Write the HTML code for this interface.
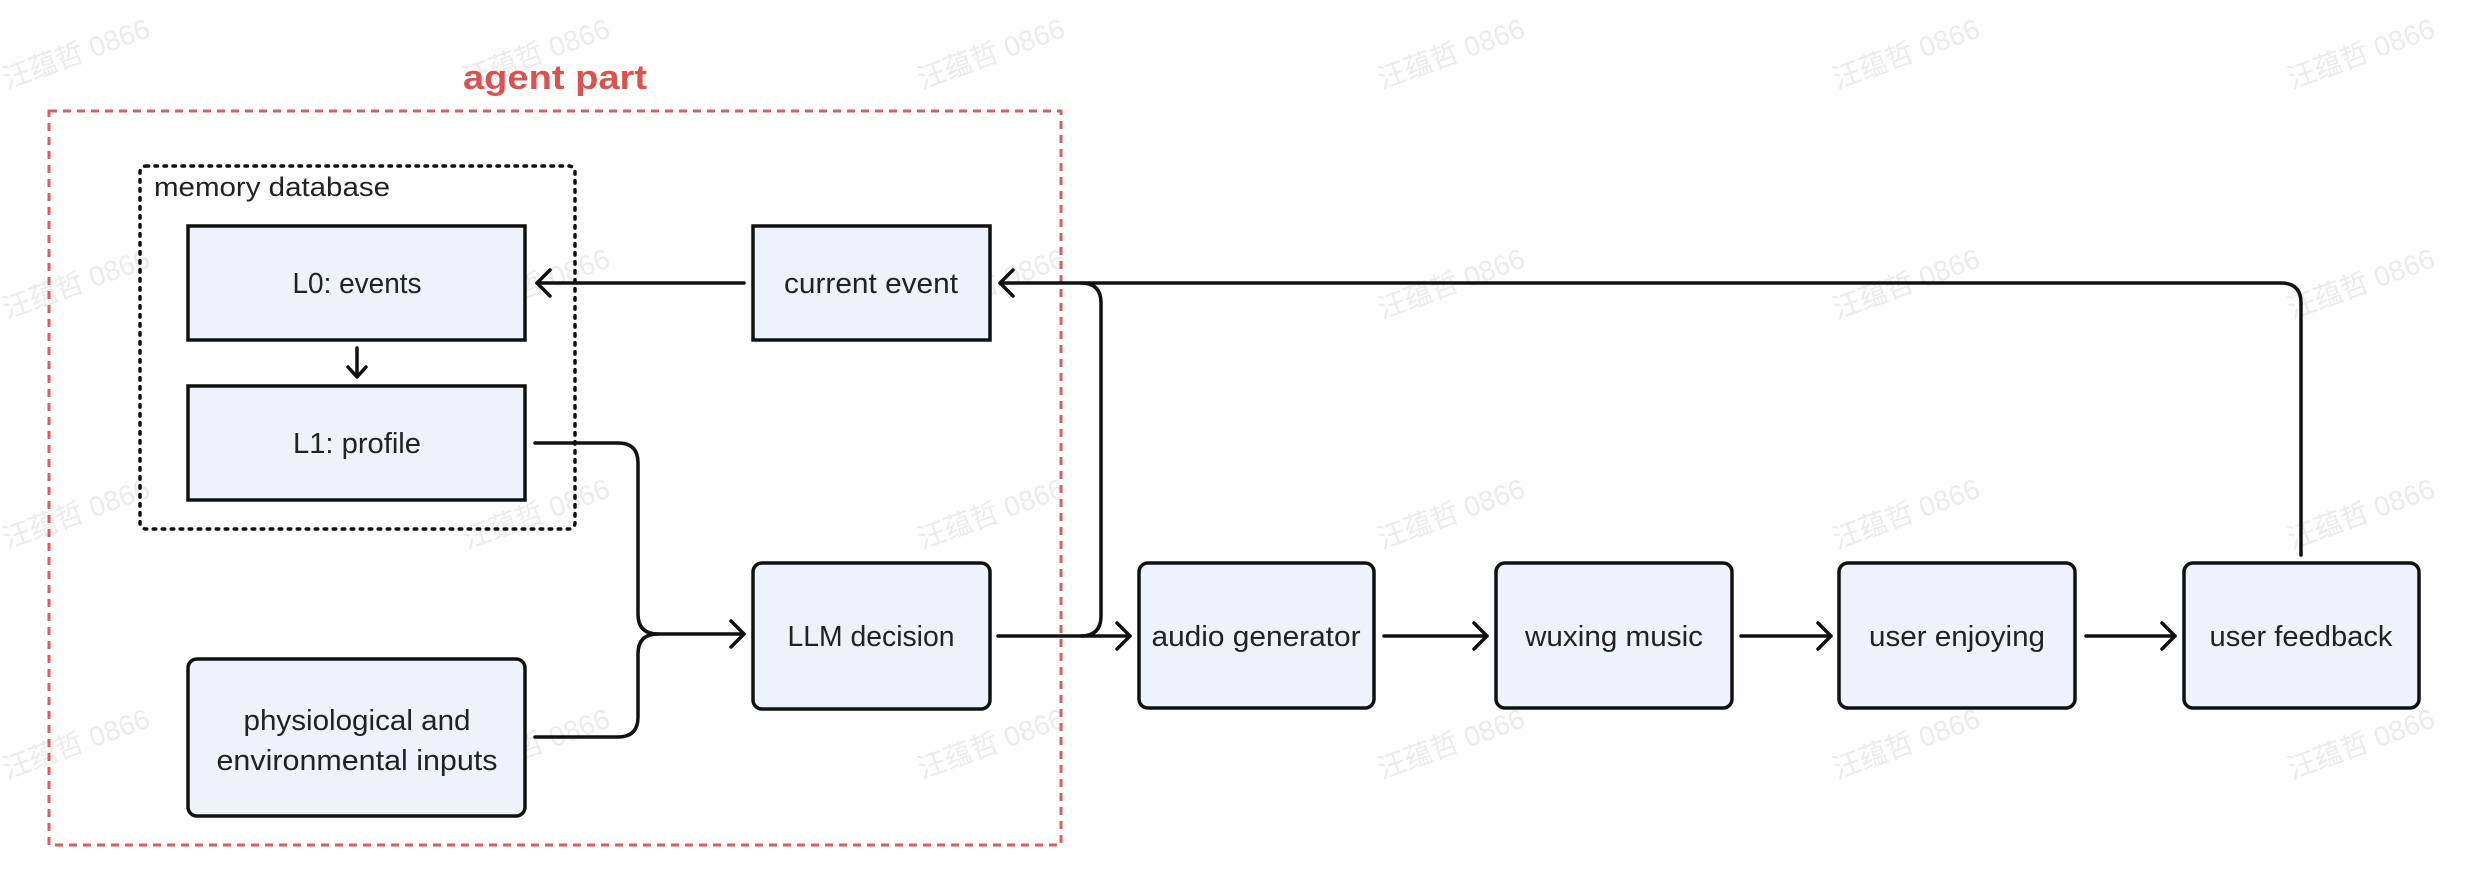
<!DOCTYPE html>
<html><head><meta charset="utf-8"><style>
html,body{margin:0;padding:0;background:#fff;}
svg{display:block;}
text{font-family:"Liberation Sans","Noto Sans CJK SC",sans-serif;}
</style></head><body>
<svg width="2472" height="896" viewBox="0 0 2472 896" xmlns="http://www.w3.org/2000/svg">
<rect width="2472" height="896" fill="#fefefe"/>
<g fill="#ececec" font-size="28" font-family="Liberation Sans, Noto Sans CJK SC, sans-serif" transform="translate(2,24)">
  <text transform="translate(5,65) rotate(-20)">汪蕴哲 0866</text>
  <text transform="translate(465,65) rotate(-20)">汪蕴哲 0866</text>
  <text transform="translate(920,65) rotate(-20)">汪蕴哲 0866</text>
  <text transform="translate(1380,65) rotate(-20)">汪蕴哲 0866</text>
  <text transform="translate(1835,65) rotate(-20)">汪蕴哲 0866</text>
  <text transform="translate(2290,65) rotate(-20)">汪蕴哲 0866</text>
  <text transform="translate(5,295) rotate(-20)">汪蕴哲 0866</text>
  <text transform="translate(465,295) rotate(-20)">汪蕴哲 0866</text>
  <text transform="translate(920,295) rotate(-20)">汪蕴哲 0866</text>
  <text transform="translate(1380,295) rotate(-20)">汪蕴哲 0866</text>
  <text transform="translate(1835,295) rotate(-20)">汪蕴哲 0866</text>
  <text transform="translate(2290,295) rotate(-20)">汪蕴哲 0866</text>
  <text transform="translate(5,525) rotate(-20)">汪蕴哲 0866</text>
  <text transform="translate(465,525) rotate(-20)">汪蕴哲 0866</text>
  <text transform="translate(920,525) rotate(-20)">汪蕴哲 0866</text>
  <text transform="translate(1380,525) rotate(-20)">汪蕴哲 0866</text>
  <text transform="translate(1835,525) rotate(-20)">汪蕴哲 0866</text>
  <text transform="translate(2290,525) rotate(-20)">汪蕴哲 0866</text>
  <text transform="translate(5,755) rotate(-20)">汪蕴哲 0866</text>
  <text transform="translate(465,755) rotate(-20)">汪蕴哲 0866</text>
  <text transform="translate(920,755) rotate(-20)">汪蕴哲 0866</text>
  <text transform="translate(1380,755) rotate(-20)">汪蕴哲 0866</text>
  <text transform="translate(1835,755) rotate(-20)">汪蕴哲 0866</text>
  <text transform="translate(2290,755) rotate(-20)">汪蕴哲 0866</text>
</g>

<!-- agent part -->
<text x="555" y="89" font-size="34" font-weight="bold" fill="#d9534f" text-anchor="middle" textLength="184" lengthAdjust="spacingAndGlyphs">agent part</text>
<rect x="49" y="111" width="1012" height="734" fill="none" stroke="#d95f5f" stroke-width="3" stroke-dasharray="8,6"/>

<!-- memory database -->
<rect x="140" y="166" width="435" height="363" rx="6" fill="none" stroke="#111" stroke-width="3.5" stroke-dasharray="2.5,6.5" stroke-linecap="round"/>
<text x="154" y="196" font-size="27" fill="#222" textLength="236" lengthAdjust="spacingAndGlyphs">memory database</text>

<g fill="#eef2fb" stroke="#111" stroke-width="3.5">
  <rect x="188" y="226" width="337" height="114"/>
  <rect x="188" y="386" width="337" height="114"/>
  <rect x="753" y="226" width="237" height="114"/>
  <rect x="188" y="659" width="337" height="157" rx="9"/>
  <rect x="753" y="563" width="237" height="146" rx="9"/>
  <rect x="1139" y="563" width="235" height="145" rx="9"/>
  <rect x="1496" y="563" width="236" height="145" rx="9"/>
  <rect x="1839" y="563" width="236" height="145" rx="9"/>
  <rect x="2184" y="563" width="235" height="145" rx="9"/>
</g>

<g font-size="29" fill="#222" text-anchor="middle">
  <text x="357" y="293" textLength="129" lengthAdjust="spacingAndGlyphs">L0: events</text>
  <text x="357" y="453" textLength="128" lengthAdjust="spacingAndGlyphs">L1: profile</text>
  <text x="871" y="293" textLength="174" lengthAdjust="spacingAndGlyphs">current event</text>
  <text x="871" y="646" textLength="167" lengthAdjust="spacingAndGlyphs">LLM decision</text>
  <text x="357" y="730" textLength="227" lengthAdjust="spacingAndGlyphs">physiological and</text>
  <text x="357" y="770" textLength="281" lengthAdjust="spacingAndGlyphs">environmental inputs</text>
  <text x="1256" y="646" textLength="209" lengthAdjust="spacingAndGlyphs">audio generator</text>
  <text x="1614" y="646" textLength="178" lengthAdjust="spacingAndGlyphs">wuxing music</text>
  <text x="1957" y="646" textLength="176" lengthAdjust="spacingAndGlyphs">user enjoying</text>
  <text x="2301" y="646" textLength="183" lengthAdjust="spacingAndGlyphs">user feedback</text>
</g>

<g fill="none" stroke="#111" stroke-width="3.5" stroke-linecap="round" stroke-linejoin="round">
  <path d="M357 348 V376"/><path d="M348 367 L357 377 L366 367"/>
  <path d="M744 283 H537"/><path d="M550 270 L537 283 L550 296"/>
  <path d="M2301 555 V303 Q2301 283 2281 283 H1000"/><path d="M1013 270 L1000 283 L1013 296"/>
  <path d="M1081 636 Q1101 636 1101 616 V303 Q1101 283 1081 283"/>
  <path d="M998 636 H1130"/><path d="M1117 623 L1130 636 L1117 649"/>
  <path d="M535 443 H618 Q638 443 638 463 V614 Q638 634 658 634 H744"/>
  <path d="M535 737 H618 Q638 737 638 717 V654 Q638 634 658 634"/>
  <path d="M731 621 L744 634 L731 647"/>
  <path d="M1384 636 H1487"/><path d="M1474 623 L1487 636 L1474 649"/>
  <path d="M1741 636 H1831"/><path d="M1818 623 L1831 636 L1818 649"/>
  <path d="M2086 636 H2175"/><path d="M2162 623 L2175 636 L2162 649"/>
</g>
</svg>
</body></html>
